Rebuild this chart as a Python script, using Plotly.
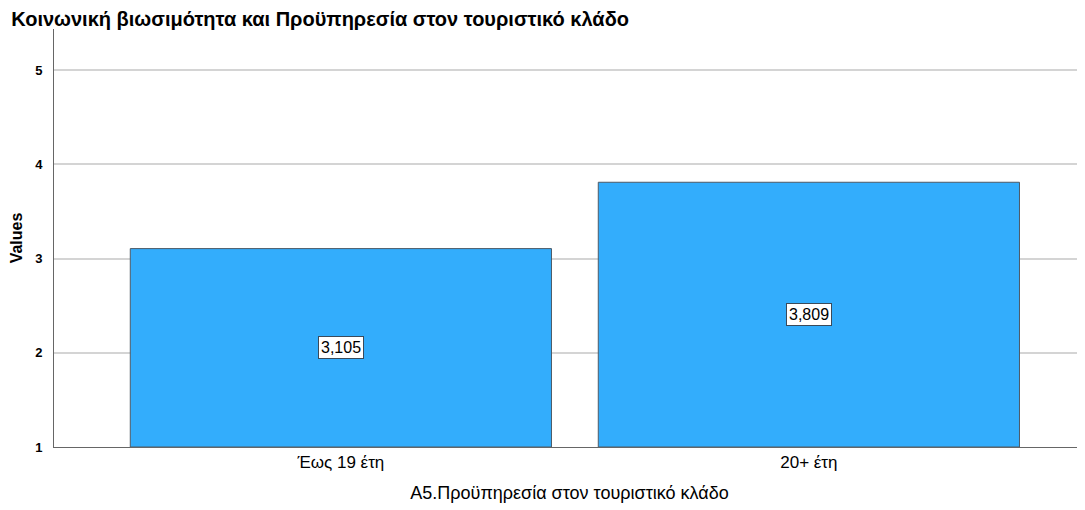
import plotly.graph_objects as go

categories = ["Έως 19 έτη", "20+ έτη"]
values = [3.105, 3.809]
y_ticks = [1, 2, 3, 4, 5]

FONT = "Liberation Sans, Arial, sans-serif"

fig = go.Figure()
fig.add_trace(go.Bar(
    x=categories, y=[v - 1 for v in values], base=1,
    width=0.9,
    marker=dict(color="#33adfc", line=dict(color="#4d5a66", width=1)),
    hovertemplate="%{x}: %{customdata}<extra></extra>",
    customdata=[f"{v:.3f}".replace(".", ",") for v in values],
))

for c, v in zip(categories, values):
    fig.add_annotation(
        x=c, y=(1 + v) / 2, text=f"{v:.3f}".replace(".", ","),
        showarrow=False, bgcolor="white", bordercolor="#3a4a5a",
        borderwidth=1, borderpad=2,
        font=dict(family=FONT, size=16, color="black"),
    )

# the page body adds an 8px margin, so the figure is 8px smaller than the window
fig.update_layout(
    width=1077, height=502,
    paper_bgcolor="white", plot_bgcolor="white",
    margin=dict(l=46, r=0, t=21, b=63),
    title=dict(text="<b>Κοινωνική βιωσιμότητα και Προϋπηρεσία στον τουριστικό κλάδο</b>",
               x=0.003, xanchor="left", y=0.992, yanchor="top",
               font=dict(family=FONT, size=20, color="black")),
    showlegend=False,
)
fig.update_xaxes(
    range=[-0.613, 1.59], automargin=False,
    showline=True, linecolor="#666666", linewidth=1,
    ticks="", tickfont=dict(family=FONT, size=17, color="black"),
    title=dict(text="Α5.Προϋπηρεσία στον τουριστικό κλάδο",
               font=dict(family=FONT, size=18, color="black"), standoff=14),
)
fig.update_yaxes(
    range=[1, 5.435], tickvals=y_ticks, automargin=False,
    ticktext=[f"<b>{t}</b>" for t in y_ticks],
    showline=True, linecolor="#666666", linewidth=1,
    showgrid=True, gridcolor="#d4d4d4", gridwidth=1.5,
    zeroline=False, ticks="", ticklabelstandoff=8,
    tickfont=dict(family=FONT, size=13, color="black"),
    title=dict(text="<b>Values</b>", font=dict(family=FONT, size=16, color="black"),
               standoff=14),
)

fig.write_html("out.html")
